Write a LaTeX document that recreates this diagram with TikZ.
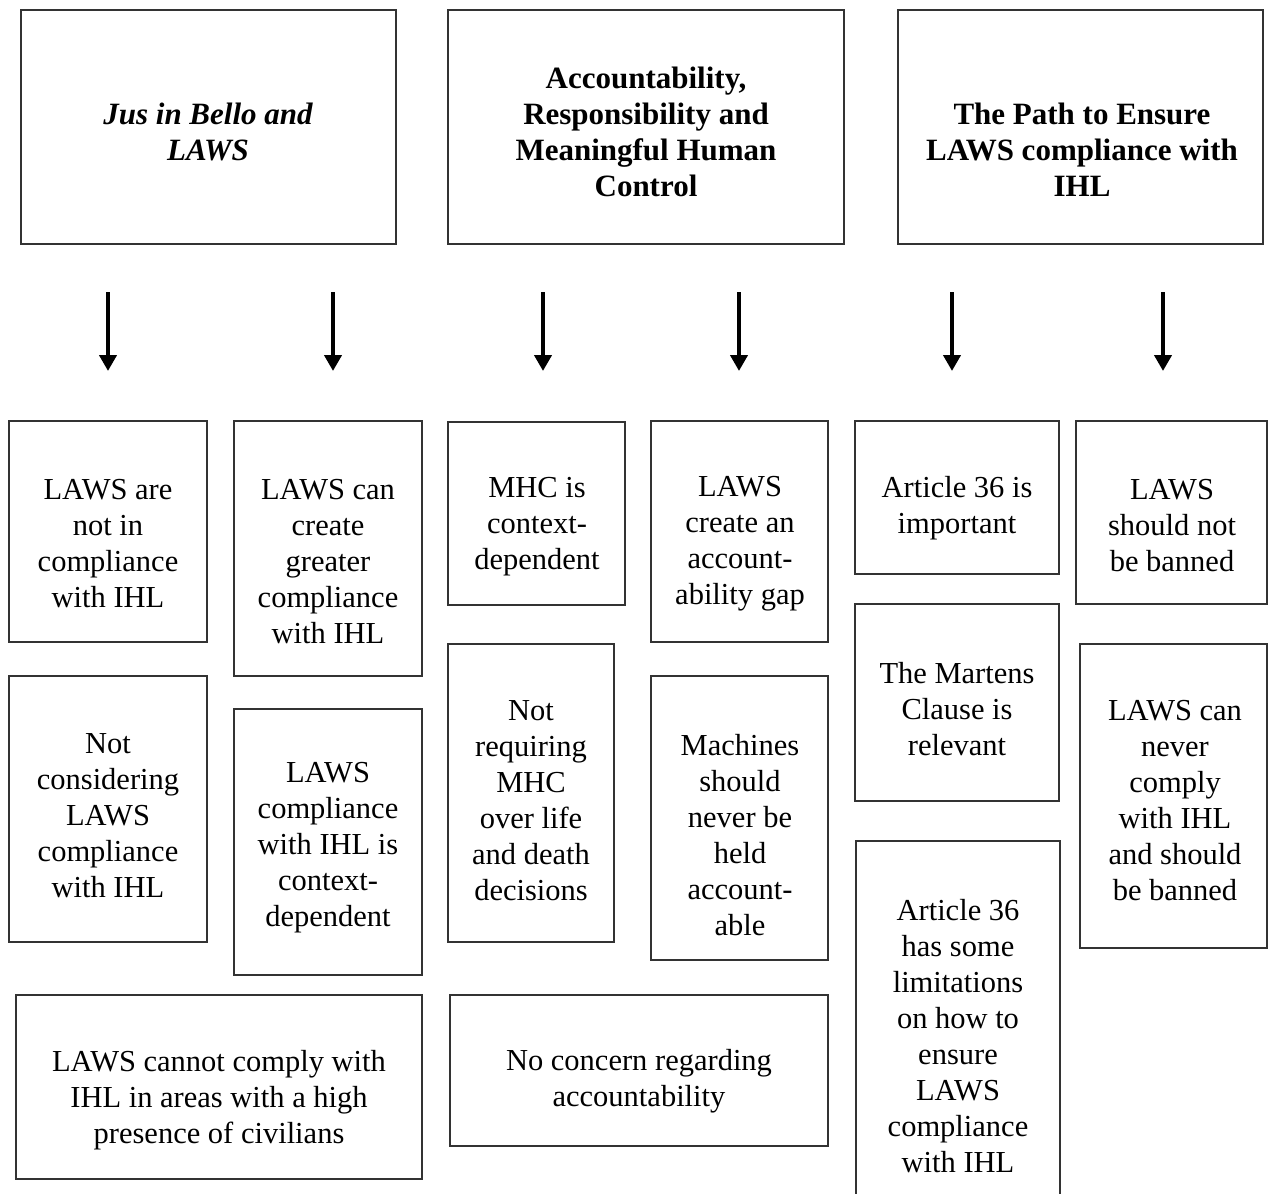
\documentclass[tikz,border=0pt]{standalone}
\usepackage{fontspec}
\setmainfont{Liberation Serif}
\usetikzlibrary{arrows.meta}
\tikzset{
  boxframe/.style={draw=black!80, line width=1.3pt, rectangle, inner sep=0pt},
  txt/.style={align=center, inner sep=0pt, yshift=-3pt, font=\fontsize{30.5}{36}\selectfont},
  head/.style={txt, font=\fontsize{31}{36}\selectfont\bfseries},
  arr/.style={line width=4pt, -{Triangle[width=17pt,length=16pt]}}
}
\newcommand{\bxx}[8]{%
  \node[boxframe, minimum width={(#4-#2)*1pt}, minimum height={(#5-#3)*1pt}] (#1) at ({(#2+#4)/2},{(#3+#5)/2}) {};
  \node[txt] (#1t) at (#6,#7) {#8};}
\newcommand{\hdd}[8]{%
  \node[boxframe, minimum width={(#4-#2)*1pt}, minimum height={(#5-#3)*1pt}] (#1) at ({(#2+#4)/2},{(#3+#5)/2}) {};
  \node[head] (#1t) at (#6,#7) {#8};}
\begin{document}
\begin{tikzpicture}[x=1pt,y=-1pt]
\useasboundingbox (0,0) rectangle (1269,1194);
% headers
\hdd{h1}{21}{10}{396}{244}{208}{129}{\itshape Jus in Bello and\\\itshape LAWS}
\hdd{h2}{448}{10}{844}{244}{646}{129}{Accountability,\\Responsibility and\\Meaningful Human\\Control}
\hdd{h3}{898}{10}{1263}{244}{1082}{147}{The Path to Ensure\\LAWS compliance with\\IHL}
% arrows
\foreach \i/\x in {1/108,2/333,3/543,4/739,5/952,6/1163}{
  \coordinate (as\i) at (\x,292);
  \coordinate (ae\i) at (\x,371);
  \draw[arr] (as\i) -- (ae\i);
}
% column 1
\bxx{a1}{9}{421}{207}{642}{108}{541}{LAWS are\\not in\\compliance\\with IHL}
\bxx{a2}{9}{676}{207}{942}{108}{813}{Not\\considering\\LAWS\\compliance\\with IHL}
% column 2
\bxx{b1}{234}{421}{422}{676}{328}{559}{LAWS can\\create\\greater\\compliance\\with IHL}
\bxx{b2}{234}{709}{422}{975}{328}{845}{LAWS\\compliance\\with IHL is\\context-\\dependent}
\bxx{w1}{16}{995}{422}{1179}{219}{1097}{LAWS cannot comply with\\IHL in areas with a high\\presence of civilians}
% column 3
\bxx{c1}{448}{422}{625}{605}{537}{524}{MHC is\\context-\\dependent}
\bxx{c2}{448}{644}{614}{942}{531}{798}{Not\\requiring\\MHC\\over life\\and death\\decisions}
% column 4
\bxx{d1}{651}{421}{828}{642}{740}{541}{LAWS\\create an\\account-\\ability gap}
\bxx{d2}{651}{676}{828}{960}{740}{832}{Machines\\should\\never be\\held\\account-\\able}
\bxx{w2}{450}{995}{828}{1146}{639}{1078}{No concern regarding\\accountability}
% column 5
\bxx{e1}{855}{421}{1059}{574}{957}{505}{Article 36 is\\important}
\bxx{e2}{855}{604}{1059}{801}{957}{706}{The Martens\\Clause is\\relevant}
\coordinate (e3bl) at (856,1194);
\coordinate (e3tl) at (856,841);
\coordinate (e3tr) at (1060,841);
\coordinate (e3br) at (1060,1194);
\draw[draw=black!80, line width=1.3pt] (e3bl) -- (e3tl) -- (e3tr) -- (e3br);
\node[txt] (e3t) at (958,1033) {Article 36\\has some\\limitations\\on how to\\ensure\\LAWS\\compliance\\with IHL};
% column 6
\bxx{f1}{1076}{421}{1267}{604}{1172}{523}{LAWS\\should not\\be banned}
\bxx{f2}{1080}{644}{1267}{948}{1175}{798}{LAWS can\\never\\comply\\with IHL\\and should\\be banned}
\end{tikzpicture}
\end{document}
